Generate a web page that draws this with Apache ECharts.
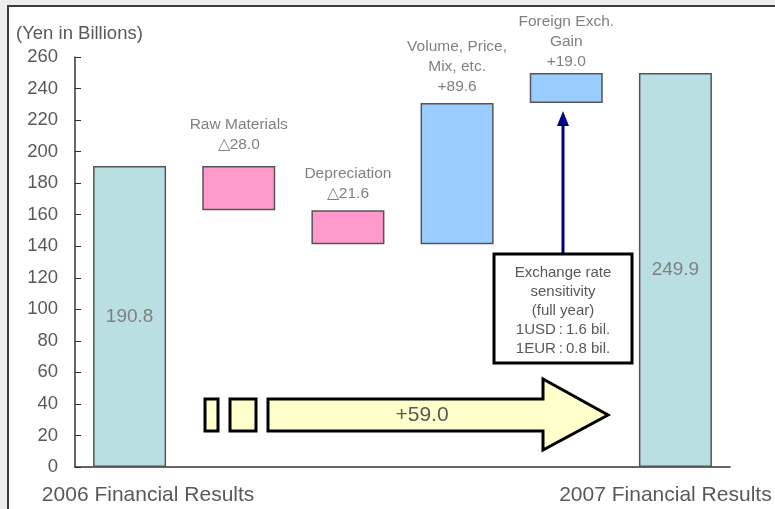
<!DOCTYPE html>
<html>
<head>
<meta charset="utf-8">
<script src="https://cdn.jsdelivr.net/npm/echarts@6/dist/echarts.min.js"></script>
<style>
  html, body { margin: 0; padding: 0; background: #eeeeee; }
  #panel { position: absolute; left: 7px; top: 5px; width: 800px; height: 540px; background: #fff; border: 2px solid #3c3c3c; }
  #chart { position: absolute; left: 0; top: 0; width: 775px; height: 509px; }
</style>
</head>
<body>
<div id="panel"></div>
<div id="chart"></div>
<script>
// waterfall data (Yen in Billions)
const categories = ['2006 Financial Results', 'Raw Materials', 'Depreciation', 'Volume, Price, Mix, etc.', 'Foreign Exch. Gain', '2007 Financial Results']
const baseValues = [0, 162.8, 141.2, 141.2, 230.8, 0]
const barValues = [190.8, 28.0, 21.6, 89.6, 19.0, 249.9]
const topLabels = ['', 'Raw Materials\n\u25B328.0', 'Depreciation\n\u25B321.6', 'Volume, Price,\nMix, etc.\n+89.6', 'Foreign Exch.\nGain\n+19.0', '']
const yMin = 0, yMax = 260, yStep = 20
const totalChange = '+59.0'
const noteLines = ['Exchange rate', 'sensitivity', '(full year)', '1USD\u2009:\u20091.6 bil.', '1EUR\u2009:\u20090.8 bil.']

// styles
const barColors = ['#b9dfe2', '#ff99cc', '#ff99cc', '#99ccff', '#99ccff', '#b9dfe2']
const labelGaps = [0, 11, 7, 6, 1, 0]
const FONT = '"Liberation Sans", Arial, sans-serif'

const chart = echarts.init(document.getElementById('chart'))

const valueData = barValues.map((v, i) => {
  const total = i === 0 || i === barValues.length - 1
  return {
    value: v,
    itemStyle: { color: barColors[i] },
    label: total
      ? { show: true, position: 'inside', formatter: '{c}', fontSize: 19, color: '#7f7f7f' }
      : { show: true, position: 'top', distance: labelGaps[i], formatter: topLabels[i], fontSize: 15.5, lineHeight: 20, color: '#808080', align: 'center' }
  }
})

const option = {
  backgroundColor: 'transparent',
  animation: false,
  textStyle: { fontFamily: FONT },
  title: {
    text: '(Yen in Billions)',
    left: 11, top: 19,
    textStyle: { fontSize: 18.5, fontWeight: 'normal', color: '#595959', fontFamily: FONT }
  },
  grid: { left: 75, right: 45, top: 57, bottom: 42 },
  xAxis: {
    type: 'category',
    data: categories,
    axisLine: { lineStyle: { color: '#333', width: 1.5 } },
    axisTick: { inside: true, length: 6, lineStyle: { color: '#333' } },
    axisLabel: {
      interval: 0,
      margin: 18,
      formatter: (v, i) => i === 0 ? '{l|' + v + '}' : (i === categories.length - 1 ? '{r|' + v + '}' : ''),
      rich: {
        l: { fontSize: 21, color: '#595959', fontFamily: FONT, padding: [0, 0, 0, 37] },
        r: { fontSize: 21, color: '#595959', fontFamily: FONT, padding: [0, 20, 0, 0] }
      }
    }
  },
  yAxis: {
    type: 'value',
    min: yMin, max: yMax, interval: yStep,
    axisLine: { show: true, lineStyle: { color: '#333', width: 1.5 } },
    axisTick: { show: true, inside: true, length: 6, lineStyle: { color: '#333' } },
    axisLabel: { margin: 17, fontSize: 18.5, color: '#595959', fontFamily: FONT },
    splitLine: { show: false }
  },
  series: [
    {
      name: 'base',
      type: 'bar',
      stack: 'wf',
      barWidth: 73,
      itemStyle: { color: 'transparent' },
      emphasis: { disabled: true },
      data: baseValues
    },
    {
      name: 'change',
      type: 'bar',
      stack: 'wf',
      barWidth: 73,
      itemStyle: { borderColor: '#555', borderWidth: 1.5 },
      data: valueData
    }
  ],
  graphic: [
    // yellow total arrow
    { type: 'rect', shape: { x: 205, y: 399, width: 13, height: 32 }, style: { fill: '#ffffcc', stroke: '#000', lineWidth: 3 } },
    { type: 'rect', shape: { x: 230, y: 399, width: 26, height: 32 }, style: { fill: '#ffffcc', stroke: '#000', lineWidth: 3 } },
    {
      type: 'polygon',
      shape: { points: [[268, 399], [543, 399], [543, 379], [608, 415], [543, 450], [543, 431], [268, 431]] },
      style: { fill: '#ffffcc', stroke: '#000', lineWidth: 3, lineJoin: 'miter' }
    },
    { type: 'text', x: 422, y: 415, style: { text: totalChange, fontSize: 21, fill: '#595959', align: 'center', verticalAlign: 'middle', fontFamily: FONT } },
    // exchange-rate note and navy arrow
    { type: 'line', shape: { x1: 563, y1: 254, x2: 563, y2: 122 }, style: { stroke: '#000080', lineWidth: 3 } },
    { type: 'polygon', shape: { points: [[563, 111], [557, 126], [569, 126]] }, style: { fill: '#000080' } },
    { type: 'rect', shape: { x: 494, y: 254, width: 138, height: 109 }, style: { fill: '#fff', stroke: '#000', lineWidth: 3 } },
    {
      type: 'text', x: 563, y: 263,
      style: { text: noteLines.join('\n'), fontSize: 15, lineHeight: 19, fill: '#595959', align: 'center', verticalAlign: 'top', fontFamily: FONT }
    }
  ]
}

chart.setOption(option)
</script>
</body>
</html>
